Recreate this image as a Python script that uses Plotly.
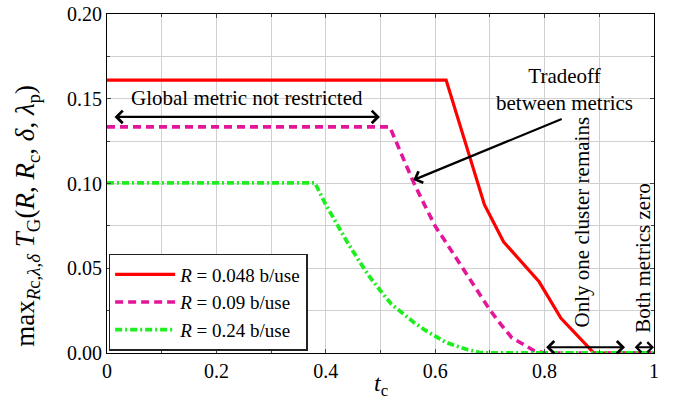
import plotly.graph_objects as go

# ---- data ----
t_red = [0.0, 0.62, 0.69, 0.725, 0.79, 0.83, 0.88, 0.89, 1.0]
v_red = [0.161, 0.161, 0.0875, 0.0656, 0.042, 0.0205, 0.0035, 0.0, 0.0]

t_pink = [0.0, 0.517, 0.54, 0.56, 0.58, 0.60, 0.62, 0.64, 0.66, 0.68, 0.70,
          0.72, 0.74, 0.76, 0.78, 0.80, 1.0]
v_pink = [0.1334, 0.1334, 0.116, 0.101, 0.0877, 0.0748, 0.0651, 0.0552, 0.0450,
          0.0352, 0.0254, 0.0169, 0.009, 0.0053, 0.0015, 0.0, 0.0]

t_green = [0.0, 0.38, 0.40, 0.42, 0.44, 0.46, 0.48, 0.50, 0.52, 0.54, 0.56,
           0.58, 0.60, 0.62, 0.64, 0.66, 0.68, 0.70, 1.0]
v_green = [0.1004, 0.1004, 0.0875, 0.076, 0.065, 0.0548, 0.045, 0.0367, 0.0288,
           0.0236, 0.0183, 0.0138, 0.0098, 0.0062, 0.004, 0.0019, 0.0004, 0.0, 0.0]

series_names = ["<i>R</i> = 0.048 b/use", "<i>R</i> = 0.09 b/use", "<i>R</i> = 0.24 b/use"]
x_ticks = [0, 0.2, 0.4, 0.6, 0.8, 1.0]
x_ticktext = ["0", "0.2", "0.4", "0.6", "0.8", "1"]
y_ticks = [0.0, 0.05, 0.10, 0.15, 0.20]
y_ticktext = ["0.00", "0.05", "0.10", "0.15", "0.20"]

SERIF = "Liberation Serif, Times New Roman, serif"

fig = go.Figure()
fig.add_trace(go.Scatter(x=t_red, y=v_red, mode="lines", name=series_names[0],
                         line=dict(color="#ff0000", width=3.2)))
fig.add_trace(go.Scatter(x=t_pink, y=v_pink, mode="lines", name=series_names[1],
                         line=dict(color="#e3169a", width=3.6, dash="8px,5px")))
fig.add_trace(go.Scatter(x=t_green, y=v_green, mode="lines", name=series_names[2],
                         line=dict(color="#1eee1e", width=3.8, dash="7px,3px,2px,3px")))

ann_font = dict(family=SERIF, size=21, color="black")
AH = 4

annotations = [
    dict(x=0.2554, y=0.1505, xref="x", yref="y", text="Global metric not restricted",
         showarrow=False, font=ann_font),
    dict(x=0.499, y=0.1393, ax=0.011, ay=0.1393, xref="x", yref="y", axref="x", ayref="y",
         text="", showarrow=True, arrowhead=AH, startarrowhead=AH, arrowside="end+start",
         arrowwidth=2.2, arrowsize=1.1, startarrowsize=1.1, arrowcolor="black"),
    dict(x=0.836, y=0.1557, xref="x", yref="y", text="Tradeoff<br>between metrics",
         showarrow=False, font=ann_font),
    dict(x=0.56, y=0.102, ax=0.834, ay=0.1384, xref="x", yref="y", axref="x", ayref="y",
         text="", showarrow=True, arrowhead=AH, arrowwidth=2.2, arrowsize=1.1,
         arrowcolor="black"),
    dict(x=0.868, y=0.0775, xref="x", yref="y", text="Only one cluster remains",
         textangle=-90, showarrow=False, font=ann_font),
    dict(x=0.947, y=0.0034, ax=0.80, ay=0.0034, xref="x", yref="y", axref="x", ayref="y",
         text="", showarrow=True, arrowhead=AH, startarrowhead=AH, arrowside="end+start",
         arrowwidth=2.2, arrowsize=1.1, startarrowsize=1.1, arrowcolor="black"),
    dict(x=0.98, y=0.0557, xref="x", yref="y", text="Both metrics zero",
         textangle=-90, showarrow=False, font=ann_font),
    dict(x=1.0, y=0.0034, ax=0.962, ay=0.0034, xref="x", yref="y", axref="x", ayref="y",
         text="", showarrow=True, arrowhead=AH, startarrowhead=AH, arrowside="end+start",
         arrowwidth=2.2, arrowsize=0.9, startarrowsize=0.9, arrowcolor="black"),
    # y-axis title
    dict(x=-0.146, y=0.405, xref="paper", yref="paper", xanchor="center", yanchor="middle",
         textangle=-90, showarrow=False,
         text="max<sub><i>R</i>c,<i>λ</i>,<i>δ</i></sub> <i>T</i><sub>G</sub>(<i>R</i>, <i>R</i><sub>c</sub>, <i>δ</i>, <i>λ</i><sub>p</sub>)",
         font=dict(family=SERIF, size=27, color="black")),
    # x-axis title
    dict(x=0.5, y=-0.094, xref="paper", yref="paper", xanchor="center", yanchor="middle",
         showarrow=False,
         text="<i>t</i><sub>c</sub>", font=dict(family=SERIF, size=24, color="black")),
]

fig.update_layout(
    width=676, height=402,
    margin=dict(l=107, r=22, t=14, b=49, autoexpand=False),
    paper_bgcolor="white", plot_bgcolor="white",
    font=dict(family=SERIF, size=20, color="black"),
    showlegend=True,
    legend=dict(x=0.003, y=0.006, xanchor="left", yanchor="bottom",
                bgcolor="white", bordercolor="#222222", borderwidth=1.5,
                font=dict(family=SERIF, size=19, color="black"),
                tracegroupgap=0, itemwidth=60),
    annotations=annotations,
    xaxis=dict(range=[0, 1], tickvals=x_ticks, ticktext=x_ticktext, automargin=False,
               showgrid=True, gridcolor="#d0d0d0", gridwidth=1,
               minor=dict(dtick=0.1, showgrid=True, gridcolor="#d0d0d0", ticks="inside",
                          ticklen=3, tickcolor="#444"),
               ticks="inside", ticklen=4, tickcolor="#444",
               showline=True, linecolor="black", linewidth=1.2, mirror="allticks",
               zeroline=False, ticklabeloverflow="allow"),
    yaxis=dict(range=[0, 0.2], tickvals=y_ticks, ticktext=y_ticktext, automargin=False,
               showgrid=True, gridcolor="#d0d0d0", gridwidth=1,
               minor=dict(dtick=0.025, showgrid=True, gridcolor="#d0d0d0", ticks="inside",
                          ticklen=3, tickcolor="#444"),
               ticks="inside", ticklen=4, tickcolor="#444",
               showline=True, linecolor="black", linewidth=1.2, mirror="allticks",
               zeroline=False, ticklabeloverflow="allow"),
)

# remove the browser's default 8px page margin so the figure sits at the window origin
fig.write_html("out.html", config={"displayModeBar": False},
               post_script="document.body.style.margin='0';")
